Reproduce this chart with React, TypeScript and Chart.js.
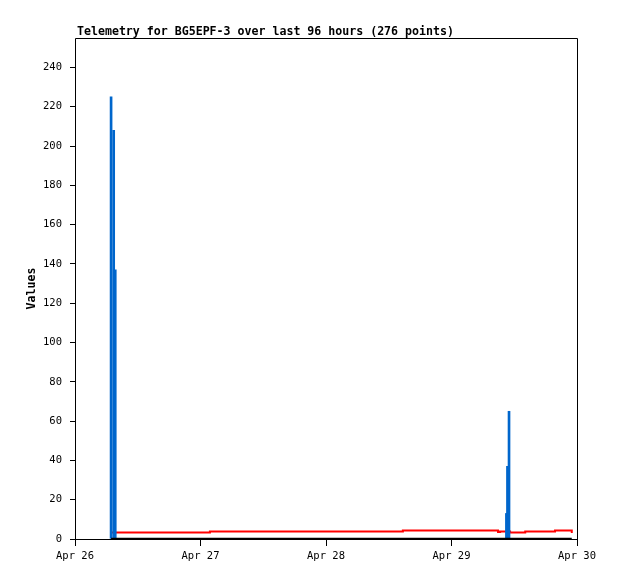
import React, { useEffect, useRef } from "react";
import { Chart, registerables } from "chart.js";

Chart.register(...registerables);

const titleText = "Telemetry for BG5EPF-3 over last 96 hours (276 points)";
const yAxisLabel = "Values";

const xTickHours = [0, 24, 48, 72, 96];
const xTickLabels = ["Apr 26", "Apr 27", "Apr 28", "Apr 29", "Apr 30"];

const blueHours = [6.9, 7.4, 7.7, 82.5, 82.7, 83.0];
const blueValues = [225, 208, 137, 13, 37, 65];

const redHours = [6.9, 25.8, 62.7, 80.9, 81.3, 82.4, 83.2, 86.1, 91.8, 94.9, 95.0];
const redValues = [3.3, 3.8, 4.3, 3.5, 3.8, 3.8, 3.3, 3.8, 4.3, 4.3, 3.0];

const zeroHours = [6.9, 95.0];
const zeroValues = [0, 0];

const MONO = "'DejaVu Sans Mono', 'Liberation Mono', monospace";

const framePlugin = {
  id: "framePlugin",
  afterDatasetsDraw(chart: any) {
    const { ctx, chartArea } = chart;
    const { left, top, right, bottom } = chartArea;
    ctx.save();
    ctx.strokeStyle = "#000";
    ctx.lineWidth = 1;
    ctx.beginPath();
    ctx.moveTo(left + 0.5, bottom + 0.5);
    ctx.lineTo(left + 0.5, top + 0.5);
    ctx.lineTo(right + 0.5, top + 0.5);
    ctx.lineTo(right + 0.5, bottom + 0.5);
    ctx.lineTo(left + 0.5, bottom + 0.5);
    ctx.stroke();

    ctx.fillStyle = "#000";
    ctx.font = `bold 11.6px ${MONO}`;
    ctx.textAlign = "left";
    ctx.textBaseline = "alphabetic";
    ctx.fillText(titleText, 77, 35);

    ctx.translate(32, (top + bottom) / 2);
    ctx.rotate(-Math.PI / 2);
    ctx.font = `bold 11.6px ${MONO}`;
    ctx.textAlign = "center";
    ctx.textBaseline = "middle";
    ctx.fillText(yAxisLabel, 0, 0);
    ctx.restore();
  },
};

export default function App() {
  const ref = useRef<HTMLCanvasElement | null>(null);

  useEffect(() => {
    if (!ref.current) return;
    const chart = new Chart(ref.current, {
      type: "bar",
      data: {
        datasets: [
          {
            type: "line",
            label: "zero",
            data: zeroHours.map((h, i) => ({ x: h, y: zeroValues[i] })),
            borderColor: "#000000",
            borderWidth: 2.5,
            pointRadius: 0,
            order: 0,
          } as any,
          {
            type: "bar",
            label: "spikes",
            data: blueHours.map((h, i) => ({ x: h, y: blueValues[i] })),
            backgroundColor: "#0066cc",
            borderWidth: 0,
            barThickness: 2,
            order: 1,
          } as any,
          {
            type: "line",
            label: "level",
            data: redHours.map((h, i) => ({ x: h, y: redValues[i] })),
            borderColor: "#ff0000",
            borderWidth: 2,
            pointRadius: 0,
            stepped: "before",
            order: 2,
          } as any,
        ],
      },
      options: {
        responsive: false,
        animation: false,
        layout: { padding: { left: 0, top: 38, right: 41, bottom: 0 } },
        plugins: {
          legend: { display: false },
          title: { display: false },
          tooltip: { enabled: false },
        },
        scales: {
          x: {
            type: "linear",
            min: 0,
            max: 96,
            offset: false,
            afterFit: (s: any) => {
              s.height = 40;
            },
            afterBuildTicks: (s: any) => {
              s.ticks = xTickHours.map((v) => ({ value: v }));
            },
            border: { display: false },
            grid: {
              display: true,
              offset: false,
              drawOnChartArea: false,
              drawTicks: true,
              tickLength: 7,
              color: "#000",
              lineWidth: 1,
            },
            ticks: {
              color: "#000",
              font: { family: MONO, size: 10.5 },
              padding: 4,
              maxRotation: 0,
              autoSkip: false,
              callback: (v: any) => {
                const i = xTickHours.indexOf(Number(v));
                return i >= 0 ? xTickLabels[i] : "";
              },
            },
          },
          y: {
            type: "linear",
            min: 0,
            max: 255,
            afterFit: (s: any) => {
              s.width = 75;
            },
            afterBuildTicks: (s: any) => {
              s.ticks = s.ticks.filter((t: any) => t.value % 20 === 0);
            },
            border: { display: false },
            grid: {
              display: true,
              offset: false,
              drawOnChartArea: false,
              drawTicks: true,
              tickLength: 5,
              color: "#000",
              lineWidth: 1,
            },
            ticks: {
              stepSize: 20,
              color: "#000",
              font: { family: MONO, size: 10.5 },
              padding: 8,
            },
          },
        },
      } as any,
      plugins: [framePlugin],
    });
    return () => chart.destroy();
  }, []);

  return (
    <div style={{ position: "absolute", left: 0, top: 0, width: 618, height: 579, background: "#fff" }}>
      <canvas ref={ref} width={618} height={579} style={{ display: "block" }} />
    </div>
  );
}
